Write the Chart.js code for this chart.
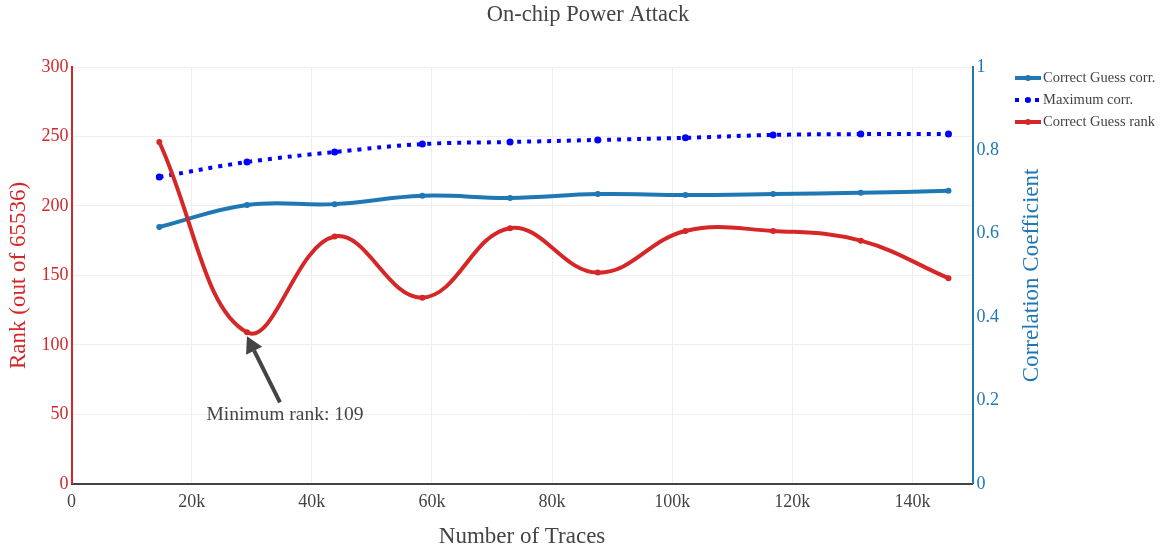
<!DOCTYPE html>
<html>
<head>
<meta charset="utf-8">
<title>On-chip Power Attack</title>
<script src="https://cdn.jsdelivr.net/npm/chart.js@4.4.1/dist/chart.umd.min.js"></script>
<style>
  body { margin: 0; background: #fff; }
</style>
</head>
<body>
<canvas id="attackChart" width="1163" height="549"></canvas>
<script>
// data
const traces = [14600, 29200, 43800, 58400, 73000, 87600, 102200, 116800, 131400, 146000];
const guessCorr = [0.616, 0.669, 0.671, 0.691, 0.686, 0.695, 0.693, 0.695, 0.698, 0.703];
const maxCorr = [0.736, 0.772, 0.796, 0.815, 0.820, 0.825, 0.830, 0.837, 0.839, 0.839];
const guessRank = [246, 109, 178, 134, 184, 152, 182, 182, 175, 148];
const seriesNames = ['Correct Guess corr.', 'Maximum corr.', 'Correct Guess rank'];
const xTicks = [0, 20000, 40000, 60000, 80000, 100000, 120000, 140000];
const minLabel = 'Minimum rank: 109';

const RED = '#d62728';
const BLUE = '#1f77b4';
const DOT_BLUE = '#0000ff';
const GREY = '#444';
const FONT = "'Liberation Serif', 'DejaVu Serif', serif";

const pts = ys => traces.map((x, i) => ({ x: x, y: ys[i] }));

// title, legend, right axis title and the arrow annotation
const extras = {
    id: 'extras',
    afterDraw(chart) {
        const c = chart.ctx;
        const area = chart.chartArea;
        c.save();
        c.fillStyle = GREY;
        c.font = '22.5px ' + FONT;
        c.textAlign = 'center';
        c.textBaseline = 'middle';
        c.fillText('On-chip Power Attack', 588, 15);

        // right axis title, reading bottom to top
        c.save();
        c.translate(1032, (area.top + area.bottom) / 2);
        c.rotate(-Math.PI / 2);
        c.fillStyle = BLUE;
        c.font = '23px ' + FONT;
        c.fillText('Correlation Coefficient', 0, 0);
        c.restore();

        // legend
        const styles = [
            { color: BLUE, dash: [] },
            { color: DOT_BLUE, dash: [4, 6] },
            { color: RED, dash: [] }
        ];
        c.font = '14.5px ' + FONT;
        c.textAlign = 'left';
        styles.forEach((s, i) => {
            const y = 78 + i * 22;
            c.strokeStyle = s.color;
            c.lineWidth = 4;
            c.setLineDash(s.dash);
            c.beginPath();
            c.moveTo(1015, y);
            c.lineTo(1041, y);
            c.stroke();
            c.setLineDash([]);
            c.fillStyle = s.color;
            c.beginPath();
            c.arc(1028, y, 3, 0, Math.PI * 2);
            c.fill();
            c.fillStyle = GREY;
            c.fillText(seriesNames[i], 1043, y);
        });

        // arrow pointing at the minimum rank
        const xs = chart.scales.x, ys = chart.scales.y;
        const tipX = xs.getPixelForValue(traces[1]);
        const tipY = ys.getPixelForValue(guessRank[1]) + 4;
        const tailX = tipX + 33, tailY = tipY + 66;
        const ang = Math.atan2(tipY - tailY, tipX - tailX);
        const headLen = 16, headW = 9;
        const bx = tipX - headLen * Math.cos(ang), by = tipY - headLen * Math.sin(ang);
        c.strokeStyle = GREY;
        c.lineWidth = 4;
        c.beginPath();
        c.moveTo(tailX, tailY);
        c.lineTo(bx, by);
        c.stroke();
        c.fillStyle = GREY;
        c.beginPath();
        c.moveTo(tipX, tipY);
        c.lineTo(bx + headW * Math.sin(ang), by - headW * Math.cos(ang));
        c.lineTo(bx - headW * Math.sin(ang), by + headW * Math.cos(ang));
        c.closePath();
        c.fill();
        c.font = '19.5px ' + FONT;
        c.textAlign = 'center';
        c.fillText(minLabel, tipX + 38, tailY + 13);
        c.restore();
    }
};

new Chart(document.getElementById('attackChart'), {
    type: 'line',
    data: {
        datasets: [
            {
                label: seriesNames[0],
                data: pts(guessCorr),
                yAxisID: 'y1',
                borderColor: BLUE,
                backgroundColor: BLUE,
                borderWidth: 4,
                pointRadius: 3,
                pointBorderWidth: 0,
                tension: 0.4,
                order: 2
            },
            {
                label: seriesNames[1],
                data: pts(maxCorr),
                yAxisID: 'y1',
                borderColor: DOT_BLUE,
                backgroundColor: DOT_BLUE,
                borderWidth: 4,
                borderDash: [4, 6],
                pointRadius: 3.5,
                pointBorderWidth: 0,
                tension: 0.4,
                order: 1
            },
            {
                label: seriesNames[2],
                data: pts(guessRank),
                yAxisID: 'y',
                borderColor: RED,
                backgroundColor: RED,
                borderWidth: 4,
                pointRadius: 3,
                pointBorderWidth: 0,
                tension: 0.4,
                order: 0
            }
        ]
    },
    options: {
        responsive: false,
        animation: false,
        layout: { padding: { top: 67, right: 160, left: 5, bottom: -2 } },
        plugins: {
            legend: { display: false },
            tooltip: { enabled: false }
        },
        scales: {
            x: {
                type: 'linear',
                min: 0,
                max: 150000,
                border: { color: GREY, width: 2 },
                grid: { color: '#eee', drawTicks: false },
                afterBuildTicks: axis => { axis.ticks = xTicks.map(v => ({ value: v })); },
                ticks: {
                    padding: 8,
                    color: GREY,
                    font: { family: FONT, size: 18 },
                    callback: v => v === 0 ? '0' : (v / 1000) + 'k'
                },
                title: {
                    display: true,
                    text: 'Number of Traces',
                    color: GREY,
                    font: { family: FONT, size: 23 },
                    padding: { top: 2, bottom: 0 }
                }
            },
            y: {
                position: 'left',
                min: 0,
                max: 300,
                border: { color: RED, width: 2 },
                grid: { color: '#eee', drawTicks: false },
                ticks: {
                    stepSize: 50,
                    padding: 3,
                    color: RED,
                    font: { family: FONT, size: 18 }
                },
                title: {
                    display: true,
                    text: 'Rank (out of 65536)',
                    color: RED,
                    font: { family: FONT, size: 23 },
                    padding: { top: 0, bottom: 6 }
                }
            },
            y1: {
                position: 'right',
                min: 0,
                max: 1,
                border: { color: BLUE, width: 2 },
                grid: { display: false, drawTicks: false },
                ticks: {
                    stepSize: 0.2,
                    padding: 4,
                    color: BLUE,
                    font: { family: FONT, size: 18 },
                    callback: v => String(Math.round(v * 10) / 10)
                }
            }
        }
    },
    plugins: [extras]
});
</script>
</body>
</html>
